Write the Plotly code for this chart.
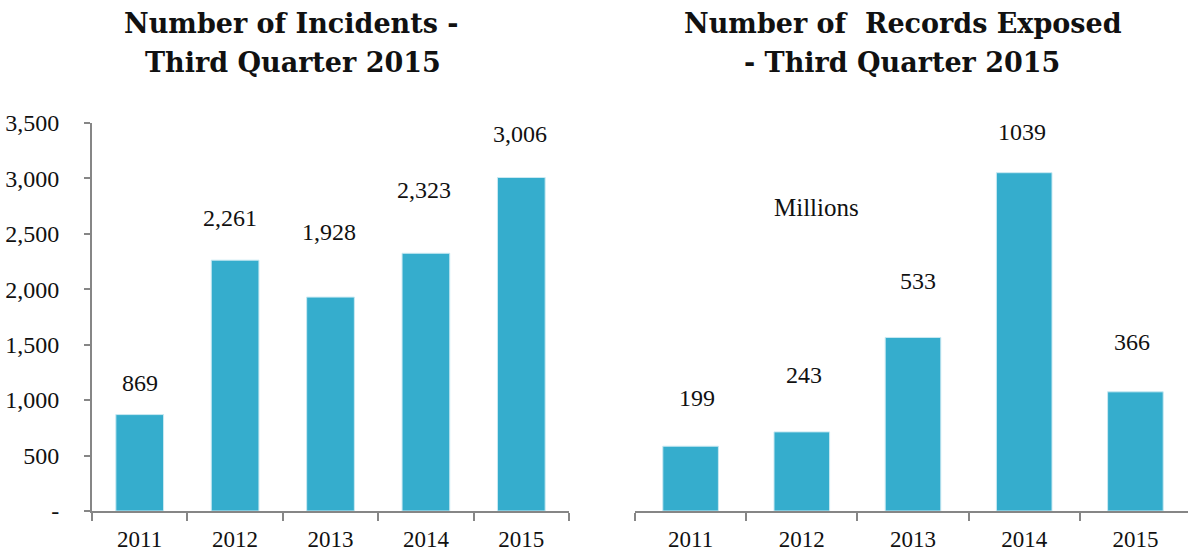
import plotly.graph_objects as go

# --- data ---
years = ["2011", "2012", "2013", "2014", "2015"]
incidents = [869, 2261, 1928, 2323, 3006]
records_millions = [199, 243, 533, 1039, 366]

incident_ticks = [0, 500, 1000, 1500, 2000, 2500, 3000, 3500]
incident_ticktext = ["-", "500", "1,000", "1,500", "2,000", "2,500", "3,000", "3,500"]

# --- label placement (pixel offsets from the bar tops) ---
incident_label_dy = [32, 42, 65, 63, 44]
incident_label_dx = [0, -5, -2, -2, -1]
records_label_dy = [48, 57, 56, 41, 50]
records_label_dx = [6, 2, 5, -2, -3]

BAR = "#35ADCD"
AXIS = "#868686"
TEXT = "#111111"
SERIF = "Liberation Serif"
TITLE_FONT = "DejaVu Serif"

W, H = 1188, 554

fig = go.Figure()
fig.add_trace(go.Bar(x=years, y=incidents, xaxis="x", yaxis="y",
                     marker=dict(color=BAR, line=dict(color="#c9e9f2", width=1)),
                     width=0.5, hoverinfo="x+y"))
fig.add_trace(go.Bar(x=years, y=records_millions, xaxis="x2", yaxis="y2",
                     marker=dict(color=BAR, line=dict(color="#c9e9f2", width=1)),
                     width=0.5, hoverinfo="x+y"))

y0, y1 = (H - 511) / H, (H - 122.7) / H
cat_w_right = 111.2
right_span = (W - 635) / cat_w_right

fig.update_layout(
    width=W, height=H, autosize=False,
    margin=dict(l=0, r=0, t=0, b=0, pad=0),
    paper_bgcolor="white", plot_bgcolor="white",
    showlegend=False,
    font=dict(family=SERIF, size=24, color=TEXT),
    xaxis=dict(domain=[92 / W, 569 / W], type="category", range=[-0.5, 4.5], anchor="y",
               showline=True, linecolor=AXIS, linewidth=2, ticks="outside",
               tickson="boundaries", ticklen=8, tickwidth=2, tickcolor=AXIS,
               tickfont=dict(size=23, family=SERIF, color=TEXT), ticklabelstandoff=6,
               showgrid=False, zeroline=False, automargin=False),
    yaxis=dict(domain=[y0, y1], range=[0, 3500], tickvals=incident_ticks, ticktext=incident_ticktext,
               anchor="x", showline=True, linecolor=AXIS, linewidth=2, ticks="outside", ticklen=6,
               tickwidth=2, tickcolor=AXIS, tickfont=dict(size=24, family=SERIF, color=TEXT),
               ticklabelstandoff=20, showgrid=False, zeroline=False, automargin=False),
    xaxis2=dict(domain=[635 / W, 1.0], type="category", range=[-0.5, -0.5 + right_span], anchor="y2",
                showline=True, linecolor=AXIS, linewidth=2, ticks="outside",
                tickson="boundaries", ticklen=8, tickwidth=2, tickcolor=AXIS,
                tickfont=dict(size=23, family=SERIF, color=TEXT), ticklabelstandoff=6,
                showgrid=False, zeroline=False, automargin=False),
    yaxis2=dict(domain=[y0, y1], range=[0, 1039 * 388.3 / 338.3], anchor="x2", visible=False,
                showgrid=False, zeroline=False, automargin=False),
)

# value labels above the bars
for i, v in enumerate(incidents):
    fig.add_annotation(x=i, y=v, xref="x", yref="y", text=f"{v:,}", showarrow=False,
                       yanchor="middle", xshift=incident_label_dx[i], yshift=incident_label_dy[i],
                       font=dict(size=24, family=SERIF, color=TEXT))
for i, v in enumerate(records_millions):
    fig.add_annotation(x=i, y=v, xref="x2", yref="y2", text=f"{v}", showarrow=False,
                       yanchor="middle", xshift=records_label_dx[i], yshift=records_label_dy[i],
                       font=dict(size=24, family=SERIF, color=TEXT))

fig.add_annotation(x=816.5 / W, y=(H - 207) / H, xref="paper", yref="paper", text="Millions",
                   showarrow=False, xanchor="center", yanchor="middle",
                   font=dict(size=25, family=SERIF, color=TEXT))

# two-line panel titles
titles = [
    (291.7, 24, "Number of Incidents -"),
    (292.5, 62, "Third Quarter 2015"),
    (903.3, 24, "Number of\u00a0 Records Exposed"),
    (901.7, 62, "- Third Quarter 2015"),
]
for cx, cy, t in titles:
    fig.add_annotation(x=cx / W, y=(H - cy) / H, xref="paper", yref="paper", text=f"<b>{t}</b>",
                       showarrow=False, xanchor="center", yanchor="middle",
                       font=dict(size=27, family=TITLE_FONT, color=TEXT))

fig.write_html("out.html")
